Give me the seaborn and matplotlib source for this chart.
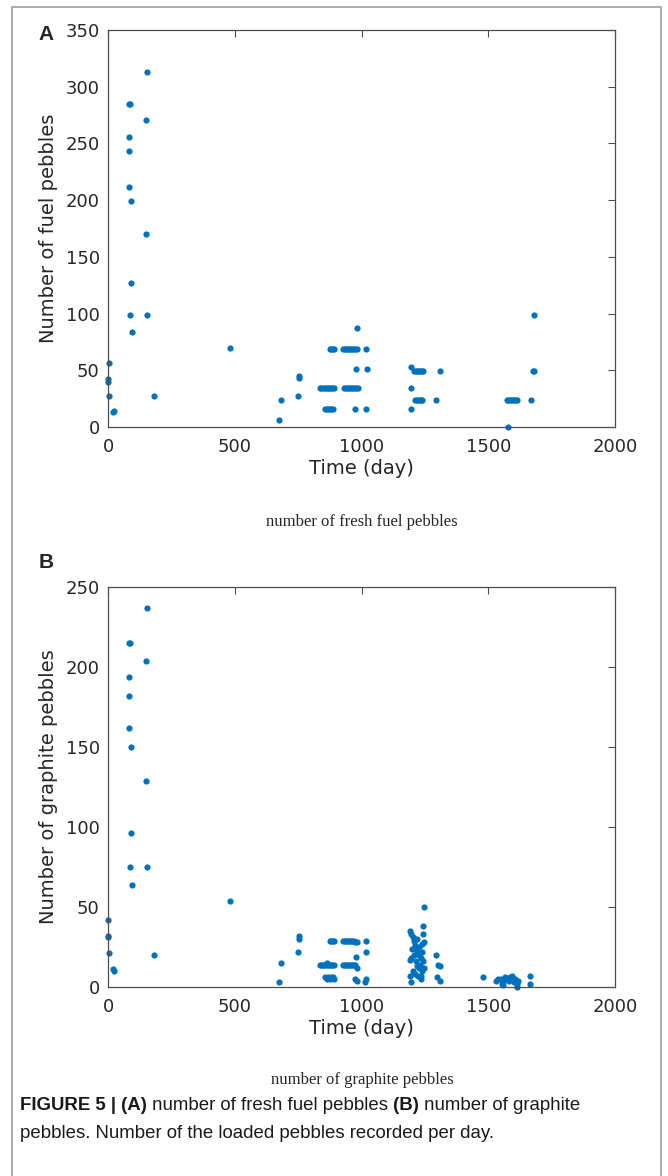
import matplotlib
matplotlib.use("Agg")
import matplotlib.pyplot as plt
import seaborn as sns
import pandas as pd
from matplotlib.patches import Rectangle

# panel A: fresh fuel pebbles loaded per day
fuel_day = [0, 1, 2, 3, 20, 23,
            81, 82, 82, 84, 87, 90, 90, 88, 93,
            151, 153, 151, 155, 180, 480,
            675, 682, 748, 754, 755,
            836, 842, 848, 855, 861, 867, 873, 879, 885, 891,
            932, 938, 944, 950, 956, 962, 968, 974, 980, 985,
            857, 863, 869, 875, 881, 886, 974, 1017,
            875, 881, 886, 892, 928, 934, 940, 946, 952, 958, 964, 970, 976, 981, 1017,
            978, 1020, 983,
            1195, 1195, 1195,
            1208, 1214, 1220, 1226, 1232, 1238, 1244, 1310,
            1211, 1217, 1223, 1229, 1235, 1240, 1294,
            1577,
            1573, 1579, 1585, 1591, 1597, 1603, 1609, 1615, 1669,
            1676, 1679, 1679]
fuel_num = [42, 40, 56, 27, 13, 14,
            212, 256, 243, 285, 285, 199, 127, 99, 84,
            271, 313, 170, 99, 27, 70,
            6, 24, 27, 43, 45,
            34, 34, 34, 34, 34, 34, 34, 34, 34, 34,
            34, 34, 34, 34, 34, 34, 34, 34, 34, 34,
            16, 16, 16, 16, 16, 16, 16, 16,
            69, 69, 69, 69, 69, 69, 69, 69, 69, 69, 69, 69, 69, 69, 69,
            51, 51, 87,
            53, 34, 16,
            49, 49, 49, 49, 49, 49, 49, 49,
            24, 24, 24, 24, 24, 24, 24,
            0,
            24, 24, 24, 24, 24, 24, 24, 24, 24,
            49, 49, 99]

# panel B: graphite pebbles loaded per day
graphite_day = [0, 1, 1, 2, 20, 22,
                81, 82, 82, 84, 87, 90, 89, 88, 93,
                151, 153, 151, 155, 180, 480,
                675, 682, 748, 753, 753,
                875, 881, 886, 892, 928, 934, 940, 946, 952, 958, 964, 970, 976, 981, 1017,
                836, 842, 848, 854, 860, 866, 872, 878, 885, 892,
                928, 934, 940, 946, 952, 958, 964, 970, 976, 983, 865,
                857, 863, 869, 875, 881, 886, 891,
                978, 974, 983, 1017, 1017, 1012,
                1246, 1244, 1244, 1248, 1191, 1197, 1204, 1207, 1210, 1214,
                1220, 1228, 1236, 1244, 1231, 1217, 1197, 1191, 1204, 1191,
                1236, 1236, 1197, 1220, 1228, 1240, 1207, 1214, 1225, 1240,
                1210, 1222, 1246, 1200, 1238,
                1292, 1302, 1311, 1296, 1311,
                1478, 1531, 1540, 1549, 1556, 1560, 1566, 1573, 1580, 1587,
                1593, 1600, 1606, 1612, 1619, 1612, 1560, 1665, 1665]
graphite_num = [32, 31, 42, 21, 11, 10,
                162, 194, 182, 215, 215, 150, 96, 75, 64,
                204, 237, 129, 75, 20, 54,
                3, 15, 22, 30, 32,
                29, 29, 29, 29, 29, 29, 29, 29, 29, 29, 29, 29, 28, 28, 29,
                14, 14, 14, 14, 14, 14, 14, 14, 14, 14,
                14, 14, 14, 14, 14, 14, 14, 14, 14, 12, 15,
                6, 5, 6, 5, 6, 6, 5,
                19, 5, 4, 22, 5, 3,
                50, 38, 33, 28, 35, 33, 31, 29, 26, 24,
                22, 20, 18, 16, 14, 13, 18, 17, 10, 7,
                7, 5, 3, 30, 25, 22, 20, 16, 12, 10,
                8, 7, 12, 24, 27,
                20, 14, 13, 6, 4,
                6, 4, 5, 5, 2, 3, 6, 5, 4, 6,
                7, 3, 5, 2, 4, 0, 1, 7, 2]

x_ticks = [0, 500, 1000, 1500, 2000]
fuel_ticks = [0, 50, 100, 150, 200, 250, 300, 350]
graphite_ticks = [0, 50, 100, 150, 200, 250]

W, H = 668, 1176
BLUE = "#0072BD"

sns.set_theme(style="white")
plt.rcParams['font.family'] = ['DejaVu Sans']

fig = plt.figure(figsize=(W / 100, H / 100), dpi=100)
ax_a = fig.add_axes([108 / W, 1 - 427 / H, (615 - 108) / W, (427 - 30) / H])
ax_b = fig.add_axes([108 / W, 1 - 987 / H, (615 - 108) / W, (987 - 587) / H])

df_a = pd.DataFrame({'day': fuel_day, 'num': fuel_num})
df_b = pd.DataFrame({'day': graphite_day, 'num': graphite_num})


def style_axis(ax, yticks, ylabel):
    ax.set_xlim(0, 2000)
    ax.set_ylim(0, yticks[-1])
    ax.set_xticks(x_ticks)
    ax.set_yticks(yticks)
    ax.tick_params(direction='in', length=5, width=0.8, color='#4d4d4d',
                   top=True, right=True, labelsize=13, labelcolor='#262626')
    ax.tick_params(axis='x', pad=8)
    ax.tick_params(axis='y', pad=6)
    for s in ax.spines.values():
        s.set_visible(True)
        s.set_color('#4d4d4d')
        s.set_linewidth(0.9)
    ax.set_xlabel('Time (day)', fontsize=14, color='#262626', labelpad=2)
    ax.set_ylabel(ylabel, fontsize=14, color='#262626', labelpad=5)


sns.scatterplot(data=df_a, x='day', y='num', color=BLUE, s=20, linewidth=0,
                clip_on=False, ax=ax_a)
style_axis(ax_a, fuel_ticks, 'Number of fuel pebbles')

sns.scatterplot(data=df_b, x='day', y='num', color=BLUE, s=20, linewidth=0,
                clip_on=False, ax=ax_b)
style_axis(ax_b, graphite_ticks, 'Number of graphite pebbles')

# panel letters
fig.text(46 / W, 1 - 34 / H, 'A', fontsize=15, fontweight='bold',
         family=['Liberation Sans', 'DejaVu Sans'], ha='center', va='center')
fig.text(46 / W, 1 - 563 / H, 'B', fontsize=15, fontweight='bold',
         family=['Liberation Sans', 'DejaVu Sans'], ha='center', va='center')

# sub captions under each panel
fig.text(362 / W, 1 - 522 / H, 'number of fresh fuel pebbles', fontsize=12,
         family=['Liberation Serif', 'DejaVu Serif'], ha='center', va='center')
fig.text(362 / W, 1 - 1080 / H, 'number of graphite pebbles', fontsize=12,
         family=['Liberation Serif', 'DejaVu Serif'], ha='center', va='center')

# figure caption with bold runs
renderer = fig.canvas.get_renderer()


def caption_line(runs, x_px, y_px):
    x = x_px
    for txt, weight in runs:
        t = fig.text(x / W, 1 - y_px / H, txt, fontsize=13.4, fontweight=weight,
                     family=['Liberation Sans', 'DejaVu Sans'], color='#1a1a1a',
                     ha='left', va='center')
        x += t.get_window_extent(renderer=renderer).width


caption_line([('FIGURE 5 | (A)', 'bold'), (' number of fresh fuel pebbles', 'normal'),
              (' (B)', 'bold'), (' number of graphite', 'normal')], 20, 1106)
caption_line([('pebbles. Number of the loaded pebbles recorded per day.', 'normal')], 20, 1134)

# outer frame
fig.patches.append(Rectangle((12 / W, -0.02), (661 - 12) / W, (1176 - 7) / H + 0.02,
                             transform=fig.transFigure, fill=False,
                             edgecolor='#a6a6a6', linewidth=1.3))

fig.savefig('out.png', dpi=100)
